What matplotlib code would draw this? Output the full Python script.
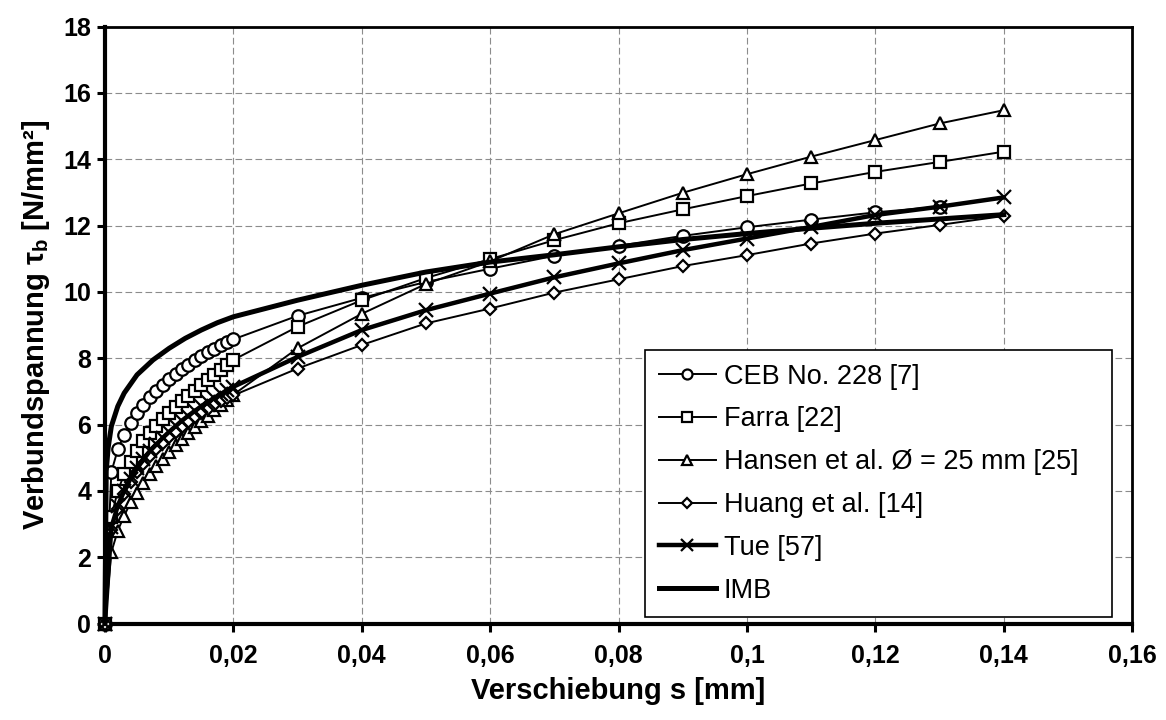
import matplotlib
matplotlib.use('Agg')
import matplotlib.pyplot as plt

plt.rcParams['font.family'] = ['Liberation Sans', 'DejaVu Sans']
plt.rcParams['mathtext.fontset'] = 'custom'
plt.rcParams['mathtext.rm'] = 'Liberation Sans'
plt.rcParams['mathtext.bf'] = 'Liberation Sans:bold'
plt.rcParams['mathtext.it'] = 'Liberation Sans:italic'

# ---------------- data ----------------
s_pts = [0, 0.001, 0.002, 0.003, 0.004, 0.005, 0.006, 0.007, 0.008, 0.009, 0.01,
         0.011, 0.012, 0.013, 0.014, 0.015, 0.016, 0.017, 0.018, 0.019, 0.02,
         0.03, 0.04, 0.05, 0.06, 0.07, 0.08, 0.09, 0.1, 0.11, 0.12, 0.13, 0.14]

ceb = [0, 4.57, 5.25, 5.7, 6.05, 6.35, 6.6, 6.82, 7.02, 7.2, 7.37,
       7.53, 7.67, 7.81, 7.94, 8.06, 8.18, 8.29, 8.39, 8.49, 8.57,
       9.28, 9.82, 10.3, 10.7, 11.09, 11.39, 11.69, 11.95, 12.18, 12.4, 12.57]
farra = [0, 3.22, 4.0, 4.5, 4.87, 5.2, 5.5, 5.74, 5.96, 6.16, 6.35,
         6.53, 6.7, 6.86, 7.02, 7.18, 7.34, 7.5, 7.65, 7.8, 7.95,
         8.95, 9.75, 10.42, 10.99, 11.56, 12.07, 12.49, 12.89, 13.27, 13.62, 13.92, 14.23]
hansen = [0, 2.15, 2.8, 3.25, 3.65, 3.95, 4.25, 4.5, 4.75, 4.97, 5.18,
          5.38, 5.57, 5.75, 5.93, 6.1, 6.27, 6.43, 6.59, 6.75, 6.9,
          8.3, 9.34, 10.24, 10.92, 11.74, 12.37, 12.99, 13.55, 14.08, 14.58, 15.08, 15.48]
huang = [0, 2.81, 3.46, 3.9, 4.27, 4.56, 4.82, 5.05, 5.25, 5.44, 5.62,
         5.78, 5.94, 6.08, 6.22, 6.35, 6.47, 6.59, 6.7, 6.8, 6.88,
         7.69, 8.4, 9.05, 9.5, 9.98, 10.38, 10.78, 11.11, 11.46, 11.76, 12.02, 12.29]
tue = [0, 2.9, 3.55, 4.0, 4.37, 4.68, 4.95, 5.2, 5.4, 5.6, 5.78,
       5.95, 6.12, 6.27, 6.41, 6.55, 6.68, 6.8, 6.92, 7.03, 7.14,
       8.04, 8.85, 9.45, 9.95, 10.44, 10.86, 11.26, 11.61, 11.96, 12.32, 12.57, 12.85]

s_imb = [0, 0.0002, 0.0005, 0.001, 0.002, 0.003, 0.005, 0.0075, 0.01, 0.0125, 0.015,
         0.0175, 0.02, 0.025, 0.03, 0.04, 0.05, 0.06, 0.07, 0.08, 0.09, 0.1,
         0.11, 0.12, 0.13, 0.14]
imb = [0, 4.6, 5.3, 5.95, 6.55, 6.95, 7.5, 7.95, 8.3, 8.6, 8.85,
       9.07, 9.25, 9.5, 9.75, 10.2, 10.6, 10.9, 11.12, 11.36, 11.58, 11.76,
       11.92, 12.07, 12.2, 12.33]

labels = ['CEB No. 228 [7]', 'Farra [22]', 'Hansen et al. Ø = 25 mm [25]',
          'Huang et al. [14]', 'Tue [57]', 'IMB']

x_ticks = [0, 0.02, 0.04, 0.06, 0.08, 0.1, 0.12, 0.14, 0.16]
x_ticklabels = ['0', '0,02', '0,04', '0,06', '0,08', '0,1', '0,12', '0,14', '0,16']
y_ticks = [0, 2, 4, 6, 8, 10, 12, 14, 16, 18]

# ---------------- plot ----------------
fig = plt.figure(figsize=(11.66, 7.2), dpi=100)
ax = fig.add_axes([0.090, 0.134, 0.881, 0.829])

ms = 9
mew = 1.6
common = dict(color='black', markerfacecolor='white', markeredgecolor='black',
              markeredgewidth=mew, clip_on=False)
ax.plot(s_pts[:len(ceb)], ceb, marker='o', lw=1.4, ms=ms, label=labels[0], zorder=3, **common)
ax.plot(s_pts, farra, marker='s', lw=1.4, ms=ms - 0.5, label=labels[1], zorder=3, **common)
ax.plot(s_pts, hansen, marker='^', lw=1.4, ms=ms, label=labels[2], zorder=3, **common)
ax.plot(s_pts, huang, marker='D', lw=1.4, ms=ms - 2.5, label=labels[3], zorder=3, **common)
ax.plot(s_pts, tue, marker='x', lw=3.2, ms=ms + 1, label=labels[4], zorder=4,
        color='black', markeredgecolor='black', markeredgewidth=1.6, clip_on=False)
ax.plot(s_imb, imb, color='black', lw=3.6, label=labels[5], zorder=5, clip_on=False)

ax.set_xlim(0, 0.16)
ax.set_ylim(0, 18)
ax.set_xticks(x_ticks)
ax.set_xticklabels(x_ticklabels)
ax.set_yticks(y_ticks)

for lab in ax.get_xticklabels() + ax.get_yticklabels():
    lab.set_fontweight('bold')
    lab.set_fontsize(18)

ax.tick_params(axis='both', direction='out', length=6, width=2.2)
ax.tick_params(axis='x', pad=9)
ax.tick_params(axis='y', pad=4)
ax.tick_params(top=False, right=False)

ax.grid(True, color='#8c8c8c', lw=0.8, linestyle=(0, (6, 3)))
ax.set_axisbelow(True)

for side in ['left', 'bottom']:
    ax.spines[side].set_linewidth(3.0)
for side in ['top', 'right']:
    ax.spines[side].set_linewidth(2.0)

ax.set_xlabel('Verschiebung s [mm]', fontsize=21, fontweight='bold', labelpad=6)
ax.set_ylabel(r'Verbundspannung τ$_\mathbf{b}$ [N/mm²]', fontsize=21,
              fontweight='bold', labelpad=8)

leg = ax.legend(loc='lower left', bbox_to_anchor=(0.526, 0.0106, 0.454, 0.456),
                mode='expand', fontsize=19.5, frameon=True, fancybox=False,
                edgecolor='black', framealpha=1, handlelength=2.1,
                handletextpad=0.3, labelspacing=0.62, borderpad=0.5,
                borderaxespad=0, markerscale=0.8)
leg.get_frame().set_linewidth(1.2)

fig.savefig('out.png', dpi=100)
